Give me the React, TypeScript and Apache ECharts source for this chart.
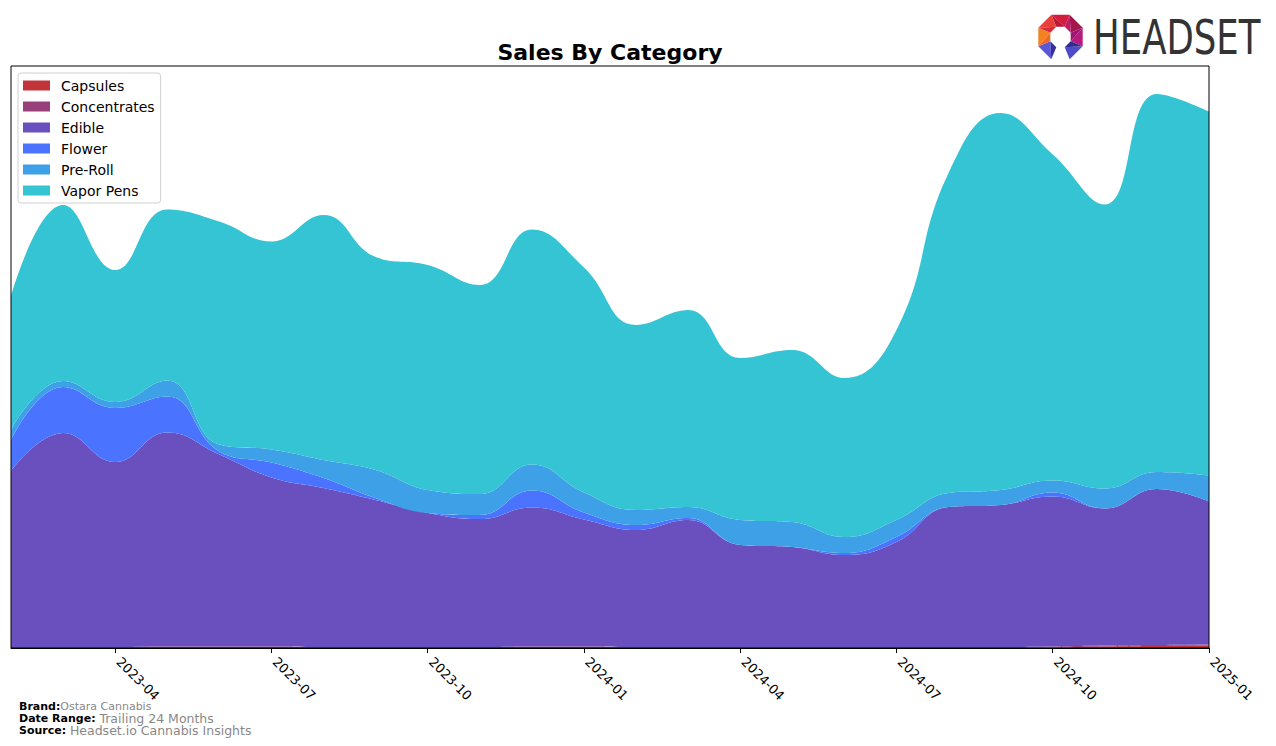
import React, { useEffect, useRef } from "react";
import * as echarts from "echarts";

const months = [
  "2023-02", "2023-03", "2023-04", "2023-05", "2023-06", "2023-07",
  "2023-08", "2023-09", "2023-10", "2023-11", "2023-12", "2024-01",
  "2024-02", "2024-03", "2024-04", "2024-05", "2024-06", "2024-07",
  "2024-08", "2024-09", "2024-10", "2024-11", "2024-12", "2025-01",
];

const capsules = [0, 0, 0, 0, 0, 0, 0, 0, 0, 0, 0, 0, 0, 0, 0, 0, 0, 0, 0, 0, 0.5, 1.5, 2, 2.5];
const concentrates = [1, 1, 1, 1.5, 1.5, 1.5, 1, 1, 1, 1, 1.5, 1.5, 1, 1, 1, 1, 1, 1, 1, 1, 1, 1, 1, 1];
const edible = [176, 214, 185, 214, 192, 169, 159, 147, 134, 128, 139, 127, 117, 127, 102, 100, 92, 105, 140, 142, 150, 137, 156, 143];
const flower = [31, 46, 54, 36, 3, 15, 10, 2, 0, 4, 17, 7, 5, 2, 0, 0, 2, 5, 0, 0, 4, 0, 0, 0];
const preRoll = [10, 6, 6, 16, 7, 13, 18, 28, 23, 21, 26, 20, 15, 11, 25, 25, 16, 17, 14, 15, 12, 20, 17, 26];
const vaporPens = [134, 176, 132, 171, 223, 208, 245, 213, 225, 209, 235, 225, 185, 197, 162, 172, 159, 190, 320, 377, 326, 284, 378, 364];

const tickLabels = ["2023-04", "2023-07", "2023-10", "2024-01", "2024-04", "2024-07", "2024-10", "2025-01"];

const seriesNames = ["Capsules", "Concentrates", "Edible", "Flower", "Pre-Roll", "Vapor Pens"];
const seriesValues = [capsules, concentrates, edible, flower, preRoll, vaporPens];
const seriesColors = ["#C0343A", "#98407A", "#6A4FBE", "#4A74FF", "#3EA0E6", "#34C4D3"];

function buildLogo() {
  const cx = 1060.5, cy = 37, R = 24, r = 11;
  const pt = (deg: number, rad: number) => {
    const a = (deg * Math.PI) / 180;
    return [cx + rad * Math.sin(a), cy - rad * Math.cos(a)];
  };
  const segs: [number, string, string][] = [
    [0, "#D21E3C", "#B8173A"],
    [45, "#A3174A", "#C01A6A"],
    [90, "#B8197F", "#9E1470"],
    [135, "#4F4CCB", "#2E2B94"],
    [225, "#5B58D8", "#33309C"],
    [270, "#F58220", "#F0672A"],
    [315, "#E8413A", "#D42E3A"],
  ];
  const els: any[] = [];
  segs.forEach(([c, c1, c2]) => {
    const o1 = pt(c - 22.5, R), o2 = pt(c + 22.5, R);
    const i1 = pt(c - 22.5, r), i2 = pt(c + 22.5, r);
    els.push({ type: "polygon", shape: { points: [o1, o2, i2] }, style: { fill: c1 }, z: 100 });
    els.push({ type: "polygon", shape: { points: [o1, i2, i1] }, style: { fill: c2 }, z: 100 });
  });
  return els;
}

export default function App() {
  const ref = useRef<HTMLDivElement>(null);
  useEffect(() => {
    const chart = echarts.init(ref.current!, null, { renderer: "svg" });
    const isTick = (idx: number) => tickLabels.indexOf(months[idx]) >= 0;
    const series = seriesNames.map((name, i) => ({
      name,
      type: "line",
      stack: "total",
      smooth: 0.45,
      showSymbol: false,
      symbol: "none",
      color: seriesColors[i],
      itemStyle: { color: seriesColors[i] },
      lineStyle: { width: 0, color: seriesColors[i] },
      areaStyle: { color: seriesColors[i], opacity: 1 },
      data: seriesValues[i],
    }));
    const option: any = {
      animation: false,
      backgroundColor: "#fff",
      grid: { left: 11, right: 67, top: 66, bottom: 98, containLabel: false },
      xAxis: {
        type: "category",
        data: months,
        boundaryGap: false,
        z: 10,
        axisLine: { show: true, lineStyle: { color: "#000", width: 1 } },
        axisTick: {
          show: true,
          interval: (idx: number) => isTick(idx),
          length: 5,
          lineStyle: { color: "#000", width: 1 },
        },
        axisLabel: {
          interval: (idx: number) => isTick(idx),
          rotate: -45,
          color: "#000",
          fontSize: 13,
          fontFamily: "DejaVu Sans",
          margin: 8,
          padding: [0, 0, 0, 5],
        },
        splitLine: { show: false },
      },
      yAxis: {
        type: "value",
        min: 0,
        max: 582,
        axisLine: { show: false },
        axisTick: { show: false },
        axisLabel: { show: false },
        splitLine: { show: false },
      },
      legend: {
        orient: "vertical",
        left: 18,
        top: 73,
        icon: "rect",
        itemWidth: 27,
        itemHeight: 10,
        itemGap: 6,
        backgroundColor: "#fff",
        borderColor: "#d0d0d0",
        borderWidth: 1,
        borderRadius: 3,
        padding: [5, 6, 5, 5],
        data: seriesNames,
        textStyle: { fontSize: 14, lineHeight: 15, fontFamily: "DejaVu Sans", color: "#000", padding: [0, 0, 0, 6] },
      },
      graphic: [
        {
          type: "rect",
          shape: { x: 11, y: 66, width: 1198, height: 582 },
          style: { fill: "none", stroke: "#000", lineWidth: 1 },
          z: 50,
          silent: true,
        },
        {
          type: "text",
          x: 610,
          y: 52,
          style: {
            text: "Sales By Category",
            fontFamily: "DejaVu Sans",
            fontWeight: "bold",
            fontSize: 22,
            fill: "#000",
            align: "center",
            verticalAlign: "middle",
          },
          z: 50,
        },
        ...buildLogo(),
        {
          type: "text",
          x: 1093,
          y: 38,
          scaleX: 0.74,
          style: {
            text: "HEADSET",
            fontFamily: "DejaVu Sans",
            fontSize: 48,
            fill: "#333333",
            align: "left",
            verticalAlign: "middle",
          },
          z: 100,
        },
        {
          type: "text",
          x: 19,
          y: 706,
          style: {
            text: "{b|Brand:}{v|Ostara Cannabis}",
            verticalAlign: "middle",
            rich: {
              b: { fontFamily: "DejaVu Sans", fontWeight: "bold", fontSize: 11, fill: "#000" },
              v: { fontFamily: "DejaVu Sans", fontSize: 11, fill: "#888" },
            },
          },
          z: 50,
        },
        {
          type: "text",
          x: 19,
          y: 718,
          style: {
            text: "{b|Date Range: }{v|Trailing 24 Months}",
            verticalAlign: "middle",
            rich: {
              b: { fontFamily: "DejaVu Sans", fontWeight: "bold", fontSize: 11, fill: "#000" },
              v: { fontFamily: "DejaVu Sans", fontSize: 12.5, fill: "#888" },
            },
          },
          z: 50,
        },
        {
          type: "text",
          x: 19,
          y: 730,
          style: {
            text: "{b|Source: }{v|Headset.io Cannabis Insights}",
            verticalAlign: "middle",
            rich: {
              b: { fontFamily: "DejaVu Sans", fontWeight: "bold", fontSize: 11, fill: "#000" },
              v: { fontFamily: "DejaVu Sans", fontSize: 12.5, fill: "#888" },
            },
          },
          z: 50,
        },
      ],
      series,
    };
    chart.setOption(option);
    return () => chart.dispose();
  }, []);
  return (
    <div
      ref={ref}
      style={{ position: "fixed", left: 0, top: 0, width: 1276, height: 746, background: "#fff" }}
    />
  );
}
